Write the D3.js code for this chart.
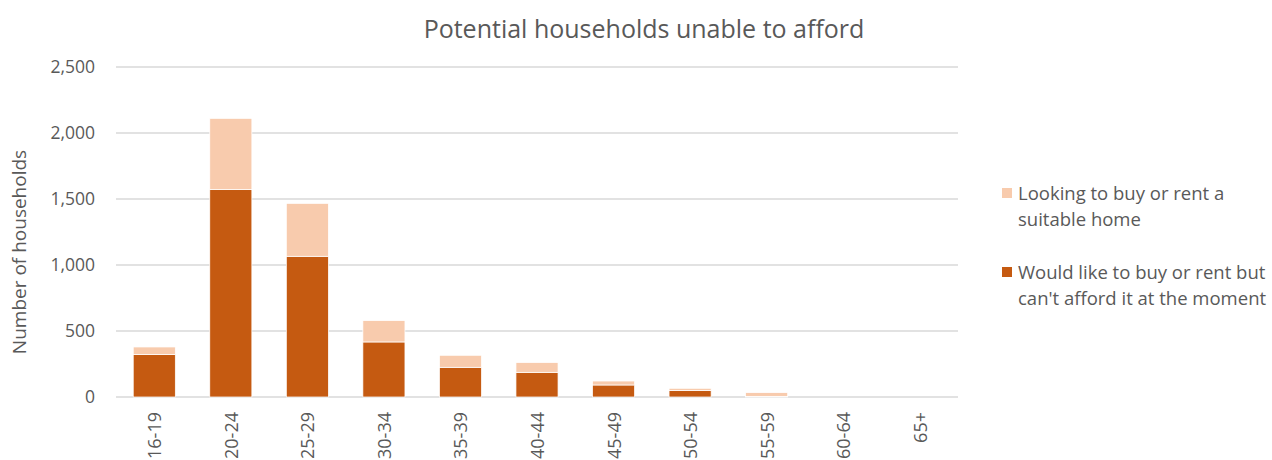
<!DOCTYPE html>
<html>
<head>
<meta charset="utf-8">
<script src="https://cdn.jsdelivr.net/npm/d3@7"></script>
<style>
  body { margin: 0; background: #fff; }
  svg { font-family: "Open Sans", sans-serif; }
</style>
</head>
<body>
<svg id="chart" width="1272" height="460"></svg>
<script>
const ageGroups = ["16-19", "20-24", "25-29", "30-34", "35-39", "40-44", "45-49", "50-54", "55-59", "60-64", "65+"];
const cantAfford = [323, 1571, 1066, 417, 225, 187, 91, 49, 5, 0, 0];
const looking = [56, 540, 401, 162, 91, 74, 30, 17, 28, 0, 0];
const yTicks = [0, 500, 1000, 1500, 2000, 2500];
const seriesNames = ["Looking to buy or rent a|suitable home", "Would like to buy or rent but|can't afford it at the moment"];

const svg = d3.select("#chart");
const margin = { top: 67, left: 116, right: 314, bottom: 63 };
const width = +svg.attr("width") - margin.left - margin.right;
const height = +svg.attr("height") - margin.top - margin.bottom;
const textColor = "#595959";
const darkColor = "#C55A11";
const lightColor = "#F8CBAD";

const g = svg.append("g").attr("transform", `translate(${margin.left},${margin.top})`);

const x = d3.scaleBand().domain(ageGroups).range([0, width]).paddingInner(0.45).paddingOuter(0.225);
const y = d3.scaleLinear().domain([0, 2500]).range([height, 0]);

// gridlines
g.selectAll(".grid")
    .data(yTicks)
    .enter()
    .append("line")
    .attr("x1", 0)
    .attr("x2", width)
    .attr("y1", d => y(d))
    .attr("y2", d => y(d))
    .attr("stroke", "#D9D9D9")
    .attr("stroke-width", 1.3);

// y tick labels
g.selectAll(".ytick")
    .data(yTicks)
    .enter()
    .append("text")
    .attr("x", -21)
    .attr("y", d => y(d))
    .attr("dy", "0.36em")
    .attr("text-anchor", "end")
    .attr("fill", textColor)
    .style("font-size", "17.5px")
    .text(d => d3.format(",")(d));

// stacked bars
const rows = ageGroups.map((a, i) => ({ age: a, dark: cantAfford[i], light: looking[i] }));
rows.forEach(d => {
    g.append("rect")
        .attr("x", x(d.age))
        .attr("width", x.bandwidth())
        .attr("y", y(d.dark))
        .attr("height", y(0) - y(d.dark))
        .attr("fill", darkColor)
        .attr("stroke", "#fff")
        .attr("stroke-width", 0.75);
    g.append("rect")
        .attr("x", x(d.age))
        .attr("width", x.bandwidth())
        .attr("y", y(d.dark + d.light))
        .attr("height", y(d.dark) - y(d.dark + d.light))
        .attr("fill", lightColor)
        .attr("stroke", "#fff")
        .attr("stroke-width", 0.75);
});

// x tick labels, rotated
g.selectAll(".xtick")
    .data(ageGroups)
    .enter()
    .append("text")
    .attr("transform", d => `translate(${x(d) + x.bandwidth() / 2 + 7},${height + 15}) rotate(-90)`)
    .attr("text-anchor", "end")
    .attr("fill", textColor)
    .style("font-size", "18px")
    .text(d => d);

// title
svg.append("text")
    .attr("x", 644)
    .attr("y", 38)
    .attr("text-anchor", "middle")
    .attr("fill", textColor)
    .style("font-size", "25px")
    .text("Potential households unable to afford");

// y axis title
svg.append("text")
    .attr("transform", "translate(26,252) rotate(-90)")
    .attr("text-anchor", "middle")
    .attr("fill", textColor)
    .style("font-size", "19px")
    .text("Number of households");

// legend
const legend = svg.append("g").attr("transform", "translate(1002,188)");
[lightColor, darkColor].forEach((c, i) => {
    const item = legend.append("g").attr("transform", `translate(0,${i * 79})`);
    item.append("rect")
        .attr("width", 10)
        .attr("height", 10)
        .attr("fill", c);
    seriesNames[i].split("|").forEach((line, j) => {
        item.append("text")
            .attr("x", 16)
            .attr("y", 5 + j * 26)
            .attr("dy", "0.36em")
            .attr("fill", textColor)
            .style("font-size", "18.5px")
            .text(line);
    });
});
</script>
</body>
</html>
